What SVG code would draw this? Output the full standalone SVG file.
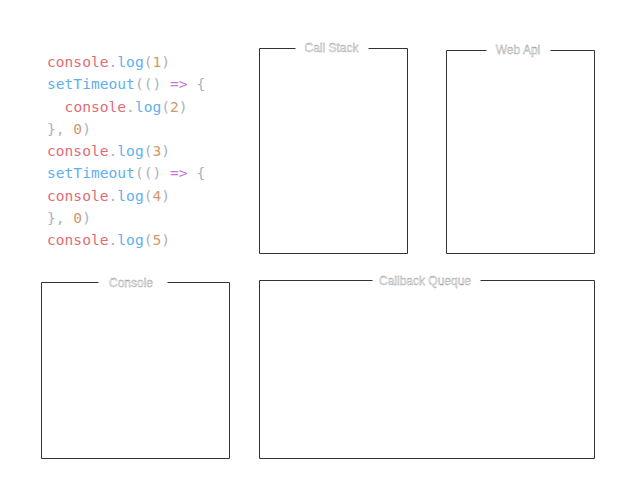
<svg xmlns="http://www.w3.org/2000/svg" width="640" height="480" viewBox="0 0 640 480">
<style>
.code{font-family:"DejaVu Sans Mono","Liberation Mono",monospace;font-size:14.6px;fill:#abb2bf}
.r{fill:#e06c75}.b{fill:#61afef}.o{fill:#d19a66}.p{fill:#c678dd}.g{fill:#abb2bf}
.box{fill:none;stroke:#333;stroke-width:1}
.lbl{font-family:"Liberation Sans",Arial,sans-serif;font-size:12px;fill:#fff;stroke:#888;stroke-width:0.35;text-anchor:middle}
</style>
<rect width="640" height="480" fill="#fff"/>
<g id="code" class="code">
<text x="47" y="67"><tspan class="r">console</tspan><tspan class="g">.</tspan><tspan class="b">log</tspan>(<tspan class="o">1</tspan>)</text>
<text x="47" y="89.25"><tspan class="b">setTimeout</tspan>(() <tspan class="p">=&gt;</tspan> {</text>
<text x="64.6" y="111.5"><tspan class="r">console</tspan><tspan class="g">.</tspan><tspan class="b">log</tspan>(<tspan class="o">2</tspan>)</text>
<text x="47" y="133.75">}, <tspan class="o">0</tspan>)</text>
<text x="47" y="156"><tspan class="r">console</tspan><tspan class="g">.</tspan><tspan class="b">log</tspan>(<tspan class="o">3</tspan>)</text>
<text x="47" y="178.25"><tspan class="b">setTimeout</tspan>(() <tspan class="p">=&gt;</tspan> {</text>
<text x="47" y="200.5"><tspan class="r">console</tspan><tspan class="g">.</tspan><tspan class="b">log</tspan>(<tspan class="o">4</tspan>)</text>
<text x="47" y="222.75">}, <tspan class="o">0</tspan>)</text>
<text x="47" y="245"><tspan class="r">console</tspan><tspan class="g">.</tspan><tspan class="b">log</tspan>(<tspan class="o">5</tspan>)</text>
</g>
<g id="callstack">
<path class="box" d="M295.5 48.5H259.5V253.5H407.5V48.5H368.5"/>
<text class="lbl" x="331.5" y="52">Call Stack</text>
</g>
<g id="webapi">
<path class="box" d="M486.5 50.5H446.5V253.5H594.5V50.5H550.5"/>
<text class="lbl" x="518" y="54">Web Api</text>
</g>
<g id="console">
<path class="box" d="M98.5 282.5H41.5V458.5H229.5V282.5H167.5"/>
<text class="lbl" x="131" y="286.5">Console</text>
</g>
<g id="callbackqueue">
<path class="box" d="M372.5 280.5H259.5V458.5H594.5V280.5H480.5"/>
<text class="lbl" x="425" y="285">Callback Queque</text>
</g>
<g id="connectors"/>
</svg>
